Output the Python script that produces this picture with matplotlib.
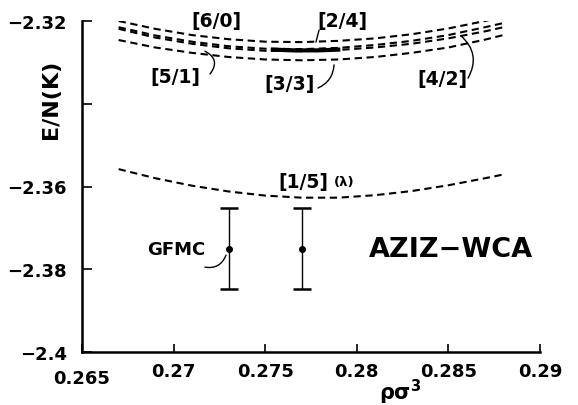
import matplotlib
matplotlib.use("Agg")
import matplotlib.pyplot as plt
from matplotlib.transforms import ScaledTranslation

plt.rcParams['font.family'] = ['DejaVu Sans']
plt.rcParams['font.weight'] = 'bold'

# ---- data ----
rho = [0.267, 0.269, 0.271, 0.273, 0.275, 0.277, 0.279, 0.281, 0.283, 0.285, 0.287, 0.288]
e_60 = [-2.3200, -2.3219, -2.3234, -2.3244, -2.3250, -2.3251, -2.3248, -2.3242, -2.3232, -2.3218, -2.3200, -2.3190]
e_51 = [-2.3215, -2.3235, -2.3250, -2.3261, -2.3267, -2.3268, -2.3265, -2.3258, -2.3248, -2.3234, -2.3215, -2.3205]
e_42 = [-2.3219, -2.3240, -2.3255, -2.3266, -2.3272, -2.3273, -2.3270, -2.3264, -2.3255, -2.3242, -2.3225, -2.3215]
e_33 = [-2.3246, -2.3264, -2.3277, -2.3287, -2.3293, -2.3295, -2.3293, -2.3287, -2.3277, -2.3264, -2.3245, -2.3234]
e_15 = [-2.3558, -2.3580, -2.3598, -2.3612, -2.3622, -2.3627, -2.3627, -2.3621, -2.3611, -2.3597, -2.3580, -2.3571]
rho_24 = [0.2753, 0.2766, 0.2779, 0.2791]
e_24 = [-2.3269, -2.3271, -2.3271, -2.3269]

gfmc_rho = [0.273, 0.277]
gfmc_e = [-2.375, -2.375]
gfmc_err = [0.0098, 0.0098]

xticks = [0.265, 0.27, 0.275, 0.28, 0.285, 0.29]
xticklabels = ['0.265', '0.27', '0.275', '0.28', '0.285', '0.29']
yticks = [-2.4, -2.38, -2.36, -2.34, -2.32]
yticklabels = ['\u22122.4', '\u22122.38', '\u22122.36', '', '\u22122.32']

fig = plt.figure(figsize=(5.78, 4.06), dpi=100)
ax = fig.add_axes([82/578, 53/406, 458/578, 331/406])

dash = dict(linestyle=(0, (3.5, 2.2)), linewidth=1.5, color='black')
ax.plot(rho, e_60, **dash)
ax.plot(rho, e_51, **dash)
ax.plot(rho, e_42, **dash)
ax.plot(rho, e_33, **dash)
ax.plot(rho, e_15, **dash)
ax.plot(rho_24, e_24, color='black', linewidth=3.0, solid_capstyle='butt')

ax.errorbar(gfmc_rho, gfmc_e, yerr=gfmc_err, fmt='o', color='black',
            markersize=4, elinewidth=1.0, capsize=6.5, capthick=1.8)

ax.set_xlim(0.265, 0.29)
ax.set_ylim(-2.4, -2.32)
for s in ['top', 'right']:
    ax.spines[s].set_visible(False)
for s in ['left', 'bottom']:
    ax.spines[s].set_linewidth(1.8)

ax.set_xticks(xticks)
ax.set_xticklabels(xticklabels)
ax.set_yticks(yticks)
ax.set_yticklabels(yticklabels)
ax.tick_params(axis='x', direction='in', length=6, width=1.2, pad=7, labelsize=13)
ax.tick_params(axis='y', direction='in', length=7, width=1.2, pad=11, labelsize=13)
for lbl in ax.get_xticklabels() + ax.get_yticklabels():
    lbl.set_fontweight('bold')

# shift the first x tick label down
lbl0 = ax.xaxis.get_major_ticks()[0].label1
lbl0.set_transform(lbl0.get_transform() + ScaledTranslation(0, -7/100, fig.dpi_scale_trans))

ax.text(0.694, -0.118, r'$\mathbf{\rho\sigma}^{\mathbf{3}}$', transform=ax.transAxes,
        ha='center', va='center', fontsize=15)
ax.text(-0.0677, 0.767, 'E/N(K)', transform=ax.transAxes, rotation=90,
        ha='center', va='center', fontsize=16, fontweight='bold')

lab = dict(ha='center', va='center', fontsize=13.5, fontweight='bold')
ax.text(0.27232, -2.3200, '[6/0]', **lab)
ax.text(0.27919, -2.3198, '[2/4]', **lab)
ax.text(0.27008, -2.3335, '[5/1]', **lab)
ax.text(0.27635, -2.3350, '[3/3]', **lab)
ax.text(0.28465, -2.3338, '[4/2]', **lab)
ax.text(0.27706, -2.3589, '[1/5]', **lab)
ax.text(0.27930, -2.3587, '(\u03bb)', ha='center', va='center', fontsize=9.5, fontweight='bold')
ax.text(0.27013, -2.3751, 'GFMC', ha='center', va='center', fontsize=13, fontweight='bold')
ax.text(0.28514, -2.3751, 'AZIZ\u2212WCA', ha='center', va='center', fontsize=19.5, fontweight='bold')

ptr = dict(arrowstyle='-', color='black', linewidth=1.0, shrinkA=0, shrinkB=0)
ax.annotate('', xy=(0.27171, -2.3273), xytext=(0.27199, -2.3328),
            arrowprops=dict(connectionstyle='arc3,rad=0.6', **ptr))
ax.annotate('', xy=(0.27876, -2.3306), xytext=(0.27788, -2.3362),
            arrowprops=dict(connectionstyle='arc3,rad=0.3', **ptr))
ax.annotate('', xy=(0.28569, -2.3236), xytext=(0.28607, -2.3338),
            arrowprops=dict(connectionstyle='arc3,rad=0.4', **ptr))
ax.annotate('', xy=(0.27777, -2.3251), xytext=(0.27794, -2.3222),
            arrowprops=dict(connectionstyle='arc3,rad=0.0', **ptr))
ax.annotate('', xy=(0.27286, -2.3766), xytext=(0.27171, -2.3795),
            arrowprops=dict(connectionstyle='arc3,rad=0.4', **ptr))

fig.savefig('out.png', dpi=100)
